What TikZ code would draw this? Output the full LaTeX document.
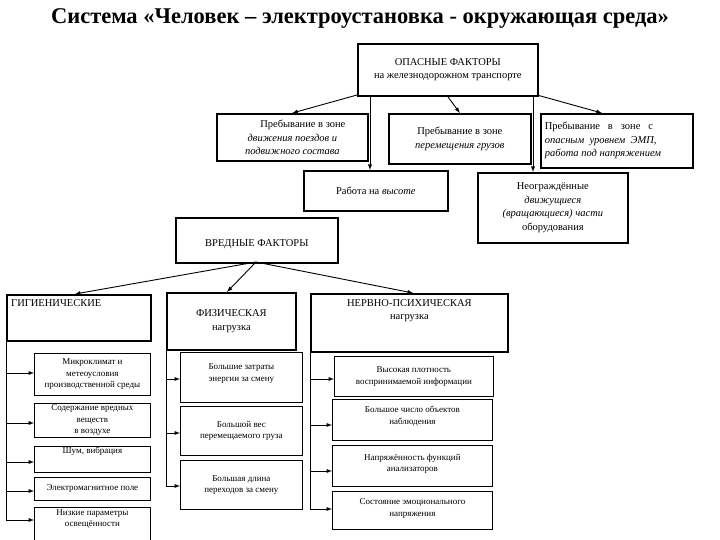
\documentclass[tikz,border=0pt]{standalone}
\usepackage{fontspec}
\setmainfont{Liberation Serif}
\begin{document}
\begin{tikzpicture}[x=1pt,y=-1pt,
  bx/.style={draw, line width=1.7pt, anchor=north west, inner sep=0pt},
  sb/.style={draw, line width=0.8pt, anchor=north west, inner sep=0pt},
  tx/.style={align=center, font=\fontsize{10.5}{13.5}\selectfont, inner sep=1pt},
  stx/.style={align=center, font=\fontsize{9}{11.5}\selectfont, inner sep=1pt},
  ar/.style={-latex, line width=0.9pt},
  ln/.style={line width=1pt}]
\useasboundingbox (0,0) rectangle (720,540);
\node[font=\bfseries\fontsize{22.5}{24}\selectfont] (title) at (360,18) {Система «Человек – электроустановка - окружающая среда»};
% top part
\node[bx, minimum width=180pt, minimum height=52pt] (op) at (357,43) {};
\node[tx] at (op.center) {ОПАСНЫЕ ФАКТОРЫ\\на железнодорожном транспорте};
\node[bx, minimum width=151pt, minimum height=47pt] (p1) at (216,113) {};
\node[tx] at (p1.center) {\hspace*{2em}Пребывание в зоне\\\itshape движения поездов и\\\itshape подвижного состава};
\node[bx, minimum width=142pt, minimum height=50pt] (p2) at (388,113) {};
\node[tx] at (p2.center) {Пребывание в зоне\\\itshape перемещения грузов};
\node[bx, minimum width=152pt, minimum height=54pt] (p3) at (540,113) {};
\node[tx, align=justify, text width=144pt] at (p3.center) {Пребывание\ \ \ в\ \ \ зоне\ \ \ с\\\itshape опасным\ \ уровнем\ \ ЭМП,\\\itshape работа под напряжением};
\node[bx, minimum width=144pt, minimum height=40pt] (rv) at (303,170) {};
\node[tx] at (rv.center) {Работа на \textit{высоте}};
\node[bx, minimum width=150pt, minimum height=70pt] (ng) at (477,172) {};
\node[tx] at (ng.center) {Неограждённые\\\itshape движущиеся\\\itshape (вращающиеся) части\\оборудования};
\node[bx, minimum width=162pt, minimum height=45pt] (vr) at (175,217) {};
\node[tx] at ([yshift=-4pt]vr.center) {ВРЕДНЫЕ ФАКТОРЫ};
\coordinate (opl) at (357,95); \coordinate (opr) at (537,95);
\coordinate (opa) at (370,95); \coordinate (opb) at (533,95);
\draw[ar] (opl) -- (p1.north);
\draw[ar] (op.south) -- (p2.north);
\draw[ar] (opr) -- ([xshift=-15pt]p3.north);
\draw[ar] (opa) -- (opa |- rv.north);
\draw[ar] (opb) -- (opb |- ng.north);
% bottom heads
\node[bx, minimum width=144pt, minimum height=46pt] (gg) at (6,294) {};
\node[tx, anchor=north west] at (10,298) {ГИГИЕНИЧЕСКИЕ};
\node[bx, minimum width=129pt, minimum height=57pt] (fz) at (166,292) {};
\node[tx] at (fz.center) {ФИЗИЧЕСКАЯ\\нагрузка};
\node[bx, minimum width=197pt, minimum height=58pt] (nv) at (310,293) {};
\node[tx, anchor=north] at ([yshift=-5pt]nv.north) {НЕРВНО-ПСИХИЧЕСКАЯ\\нагрузка};
\coordinate (vb) at (256,262);
\draw[ar] (vb) -- (75,294);
\draw[ar] (vb) -- (227,292);
\draw[ar] (vb) -- (413,293);
% gig subs
\node[sb, minimum width=116pt, minimum height=42pt] (g1) at (34,353) {};
\node[stx] at (g1.center) {Микроклимат и\\метеоусловия\\производственной среды};
\node[sb, minimum width=116pt, minimum height=34pt] (g2) at (34,403) {};
\node[stx] at (g2.center) {Содержание вредных\\веществ\\в воздухе};
\node[sb, minimum width=116pt, minimum height=26pt] (g3) at (34,446) {};
\node[stx, anchor=north] at (g3.north) {Шум, вибрация};
\node[sb, minimum width=116pt, minimum height=23pt] (g4) at (34,477) {};
\node[stx] at (g4.center) {Электромагнитное поле};
\node[sb, minimum width=116pt, minimum height=40pt] (g5) at (34,507) {};
\node[stx, anchor=north] at ([yshift=-1pt]g5.north) {Низкие параметры\\освещённости};
\draw[ln] (6,340) -- (6,520);
\foreach \n/\y in {g1/373,g2/423,g3/462,g4/491,g5/520}{\draw[ar] (6,\y) -- (\n.west |- 0,\y);}
% fiz subs
\node[sb, minimum width=122pt, minimum height=50pt] (f1) at (180,352) {};
\node[stx] at ([yshift=4pt]f1.center) {Большие затраты\\энергии за смену};
\node[sb, minimum width=122pt, minimum height=49pt] (f2) at (180,406) {};
\node[stx] at (f2.center) {Большой вес\\перемещаемого груза};
\node[sb, minimum width=122pt, minimum height=49pt] (f3) at (180,460) {};
\node[stx] at (f3.center) {Большая длина\\переходов за смену};
\draw[ln] (166,349) -- (166,486);
\foreach \n/\y in {f1/379,f2/433,f3/486}{\draw[ar] (166,\y) -- (\n.west |- 0,\y);}
% nerv subs
\node[sb, minimum width=159pt, minimum height=40pt] (n1) at (334,356) {};
\node[stx] at (n1.center) {Высокая плотность\\воспринимаемой информации};
\node[sb, minimum width=160pt, minimum height=41pt] (n2) at (332,399) {};
\node[stx] at ([yshift=4pt]n2.center) {Большое число объектов\\наблюдения};
\node[sb, minimum width=160pt, minimum height=41pt] (n3) at (332,445) {};
\node[stx] at ([yshift=2pt]n3.center) {Напряжённость функций\\анализаторов};
\node[sb, minimum width=160pt, minimum height=38pt] (n4) at (332,491) {};
\node[stx] at ([yshift=2pt]n4.center) {Состояние эмоционального\\напряжения};
\draw[ln] (310,351) -- (310,509);
\foreach \n/\y in {n1/379,n2/425,n3/471,n4/509}{\draw[ar] (310,\y) -- (\n.west |- 0,\y);}
\end{tikzpicture}
\end{document}
